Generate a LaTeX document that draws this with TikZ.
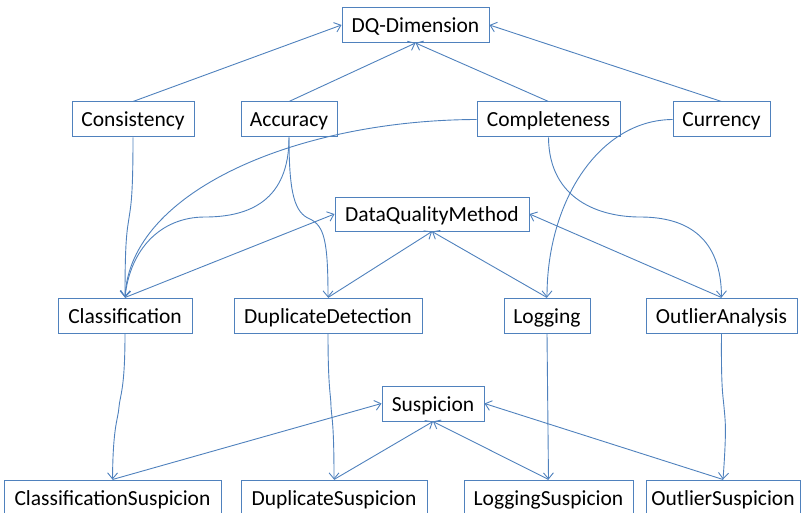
\documentclass[tikz,border=0pt]{standalone}
\usepackage{fontspec}
\setmainfont{Carlito}
\usetikzlibrary{arrows.meta}
\definecolor{ln}{RGB}{79,129,189}
\tikzset{
  box/.style={draw=ln, line width=1pt, rectangle, minimum height=35pt, inner sep=0pt,
    font=\fontsize{21.5}{25}\selectfont, text height=15pt, text depth=0pt, fill=white},
  conn/.style={draw=ln, line width=0.9pt, -{Straight Barb[length=6pt,width=10pt,line width=0.9pt]}},
}
\begin{document}
\begin{tikzpicture}[x=1pt,y=-1pt]
\useasboundingbox (0,0) rectangle (802,513);
\clip (0,0) rectangle (802,513);
% nodes
\node[box, minimum width=147pt] (dq) at (415.5,25) {DQ-Dimension};
\node[box, minimum width=122pt] (cons) at (133,119.5) {Consistency};
\node[box, minimum width=96pt] (acc) at (289,119.5) {Accuracy};
\node[box, minimum width=143pt] (comp) at (548.5,119.5) {Completeness};
\node[box, minimum width=97pt] (cur) at (721.5,119.5) {Currency};
\node[box, minimum width=194pt, minimum height=34pt] (dqm) at (432,214) {DataQualityMethod};
\node[box, minimum width=134pt] (cls) at (125,315.5) {Classification};
\node[box, minimum width=188pt] (dup) at (328,315.5) {DuplicateDetection};
\node[box, minimum width=86pt] (log) at (547,315.5) {Logging};
\node[box, minimum width=151pt] (out) at (721.5,315.5) {OutlierAnalysis};
\node[box, minimum width=102pt] (sus) at (433,403.5) {Suspicion};
\node[box, minimum width=217pt] (clss) at (112.5,497.5) {ClassificationSuspicion};
\node[box, minimum width=186pt] (dups) at (334,497.5) {DuplicateSuspicion};
\node[box, minimum width=169pt] (logs) at (548.5,497.5) {LoggingSuspicion};
\node[box, minimum width=154pt] (outs) at (723,497.5) {OutlierSuspicion};
% dimension -> DQ-Dimension
\draw[conn] (cons.north) -- (dq.west);
\draw[conn] (acc.north) -- (dq.south);
\draw[conn] (comp.north) -- (dq.south);
\draw[conn] (cur.north) -- (dq.east);
% methods -> DataQualityMethod
\draw[conn] (cls.north) -- (dqm.west);
\draw[conn] (dup.north) -- (dqm.south);
\draw[conn] (log.north) -- (dqm.south);
\draw[conn] (out.north) -- (dqm.east);
% dimension -> method curves
\draw[conn] (cons.south) .. controls (133,195) and (131,205) .. (129,218) .. controls (127,231) and (125,240) .. (cls.north);
\draw[conn] (acc.south) .. controls (289,200) and (250,217) .. (205,217) .. controls (160,217) and (130,250) .. (cls.north);
\draw[conn] (comp.west) .. controls (300,120) and (130,190) .. (cls.north);
\draw[conn] (acc.south) .. controls (289,195) and (295,213) .. (310,219) .. controls (324,226) and (328,240) .. (dup.north);
\draw[conn] (comp.south) .. controls (549,200) and (600,217) .. (640,217) .. controls (690,217) and (721,240) .. (out.north);
\draw[conn] (cur.west) .. controls (600,120) and (547,200) .. (log.north);
% method -> suspicion curves
\draw[conn] (cls.south) .. controls (125,390) and (120,395) .. (119,407) .. controls (118,420) and (113,425) .. (clss.north);
\draw[conn] (dup.south) .. controls (328,390) and (331,395) .. (331,407) .. controls (332,420) and (334,425) .. (dups.north);
\draw[conn] (log.south) -- (logs.north);
\draw[conn] (out.south) .. controls (721,390) and (723,395) .. (724,407) .. controls (725,420) and (727,425) .. (outs.north);
% suspicions -> Suspicion
\draw[conn] (clss.north) -- (sus.west);
\draw[conn] (dups.north) -- (sus.south);
\draw[conn] (logs.north) -- (sus.south);
\draw[conn] (outs.north) -- (sus.east);
\end{tikzpicture}
\end{document}
